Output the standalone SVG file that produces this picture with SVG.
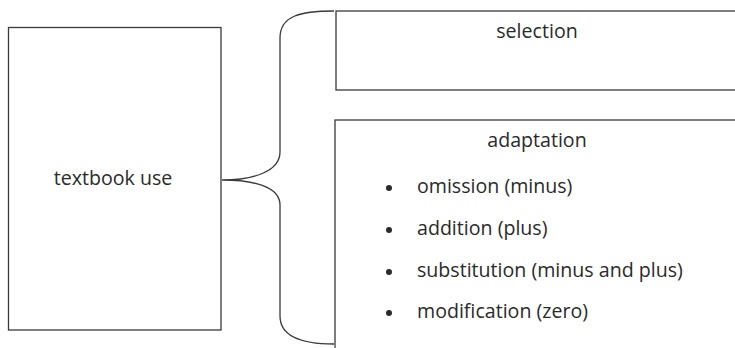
<svg xmlns="http://www.w3.org/2000/svg" width="735" height="348" viewBox="0 0 735 348">
<style>
.box{fill:#fff;stroke:#3a3a3a;stroke-width:1.3}
.ln{fill:none;stroke:#3a3a3a;stroke-width:1.3}
text{font-family:"Open Sans","Liberation Sans",sans-serif;font-size:19.6px;fill:#2a2a2a}
.c{text-anchor:middle}
.dot{fill:#2a2a2a}
</style>
<rect width="735" height="348" fill="#fff"/>
<g id="textbook-use">
<rect class="box" x="8.5" y="27.5" width="212.5" height="302.5"/>
<text class="c" x="113" y="185">textbook use</text>
</g>
<g id="connectors">
<path class="ln" d="M334,11 C300,11 280,16 280,38 L280,152 C280,172 252,180 222,180 C252,180 280,186 280,205 L280,316 C280,336 300,344 334,344"/>
</g>
<g id="selection">
<rect class="box" x="336" y="11" width="400" height="79"/>
<text class="c" x="537" y="38">selection</text>
</g>
<g id="adaptation">
<rect class="box" x="335" y="120" width="401" height="240"/>
<text class="c" x="537" y="147">adaptation</text>
<circle class="dot" cx="389" cy="188" r="3"/>
<text x="417" y="193">omission (minus)</text>
<circle class="dot" cx="389" cy="230" r="3"/>
<text x="417" y="235">addition (plus)</text>
<circle class="dot" cx="389" cy="272" r="3"/>
<text x="417" y="277">substitution (minus and plus)</text>
<circle class="dot" cx="389" cy="313" r="3"/>
<text x="417" y="318">modification (zero)</text>
</g>
</svg>
